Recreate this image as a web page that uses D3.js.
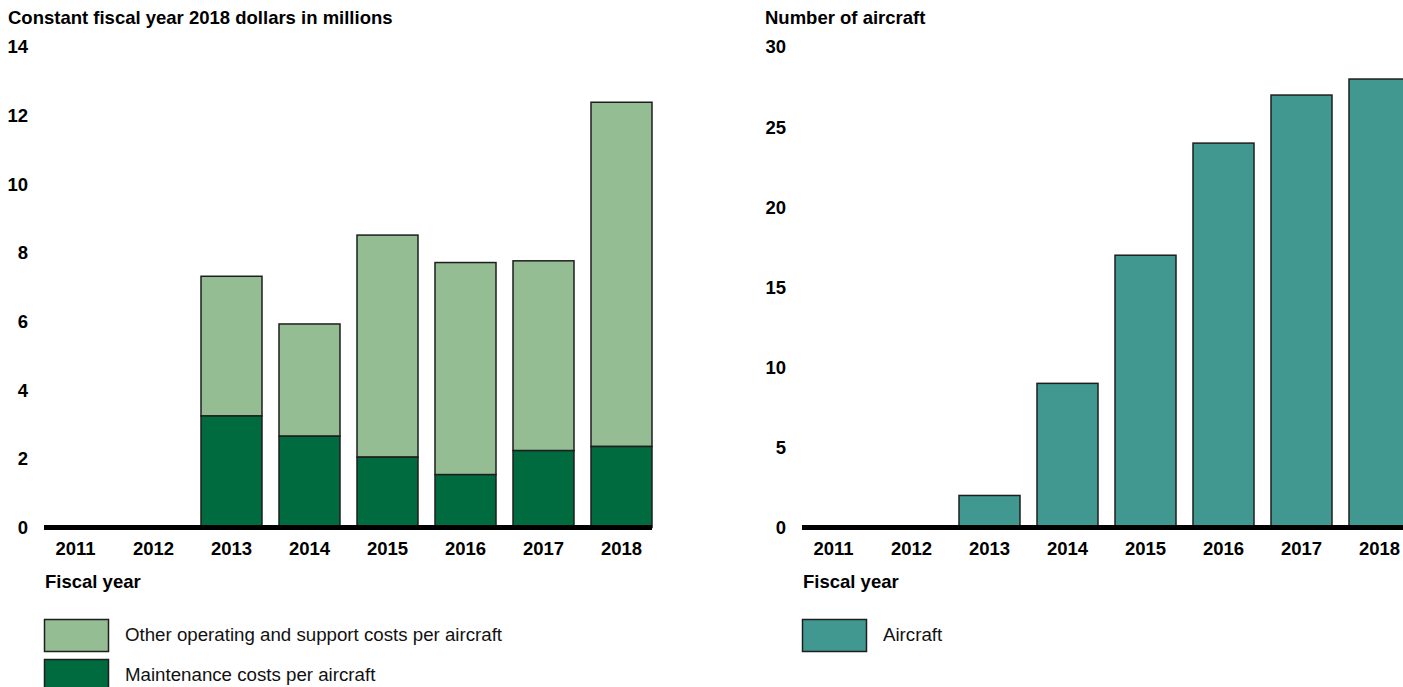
<!DOCTYPE html>
<html>
<head>
<meta charset="utf-8">
<script src="https://cdn.jsdelivr.net/npm/d3@7"></script>
<style>
  html, body { margin: 0; padding: 0; background: #fff; }
  svg { display: block; font-family: "Liberation Sans", Arial, sans-serif; }
</style>
</head>
<body>
<svg id="chart" width="1403" height="687"></svg>
<script>
const years = ["2011", "2012", "2013", "2014", "2015", "2016", "2017", "2018"];
const maintenance = [0, 0, 3.25, 2.66, 2.05, 1.54, 2.24, 2.36];
const otherCosts = [0, 0, 4.07, 3.27, 6.47, 6.18, 5.53, 10.03];
const aircraft = [0, 0, 2, 9, 17, 24, 27, 28];
const leftTicks = [0, 2, 4, 6, 8, 10, 12, 14];
const rightTicks = [0, 5, 10, 15, 20, 25, 30];

const C_OTHER = "#95bd93", C_MAINT = "#006b3f", C_AIR = "#409891", STROKE = "#1e1e1e";
const FS = "18.5px";
const FS_LEG = "18.7px";

const svg = d3.select("#chart");

function panel(opts) {
  const g = svg.append("g");
  const x = d3.scaleBand().domain(years).range(opts.xr).paddingInner(0.218).paddingOuter(0.109);
  const y = d3.scaleLinear().domain(opts.domain).range([527.5, 47]);

  g.append("text").attr("x", opts.titleX).attr("y", 24)
    .attr("font-size", FS).attr("font-weight", "bold").attr("fill", "#000").text(opts.title);

  g.selectAll(".yt").data(opts.ticks).join("text")
    .attr("x", opts.tickX).attr("y", d => y(d)).attr("dy", "0.35em")
    .attr("text-anchor", "end").attr("font-size", FS).attr("font-weight", "bold").text(d => d);

  opts.drawBars(g, x, y);

  g.append("line").attr("x1", x(years[0]) - 1).attr("x2", x(years[years.length - 1]) + x.bandwidth())
    .attr("y1", 527.5).attr("y2", 527.5).attr("stroke", "#000").attr("stroke-width", 5);

  g.selectAll(".xt").data(years).join("text")
    .attr("x", d => x(d) + x.bandwidth() / 2).attr("y", 555)
    .attr("text-anchor", "middle").attr("font-size", FS).attr("font-weight", "bold").text(d => d);

  g.append("text").attr("x", x(years[0])).attr("y", 588)
    .attr("font-size", FS).attr("font-weight", "bold").text("Fiscal year");

  opts.legend.forEach((l, i) => {
    g.append("rect").attr("x", x(years[0]) - 0.5).attr("y", 619.5 + i * 40).attr("width", 64).attr("height", 32)
      .attr("fill", l.color).attr("stroke", STROKE).attr("stroke-width", 1.5);
    g.append("text").attr("x", x(years[0]) + 80).attr("y", 640.5 + i * 40)
      .attr("font-size", FS_LEG).attr("fill", "#111").text(l.label);
  });
}

panel({
  xr: [36.5, 660.5], domain: [0, 14], ticks: leftTicks, tickX: 28, titleX: 8,
  title: "Constant fiscal year 2018 dollars in millions",
  legend: [{ color: C_OTHER, label: "Other operating and support costs per aircraft" },
           { color: C_MAINT, label: "Maintenance costs per aircraft" }],
  drawBars: (g, x, y) => {
    const data = years.map((yr, i) => ({ yr, m: maintenance[i], o: otherCosts[i] })).filter(d => d.m + d.o > 0);
    g.selectAll(".bo").data(data).join("rect")
      .attr("x", d => x(d.yr)).attr("width", x.bandwidth())
      .attr("y", d => y(d.m + d.o)).attr("height", d => y(d.m) - y(d.m + d.o))
      .attr("fill", C_OTHER).attr("stroke", STROKE).attr("stroke-width", 1.5);
    g.selectAll(".bm").data(data).join("rect")
      .attr("x", d => x(d.yr)).attr("width", x.bandwidth())
      .attr("y", d => y(d.m)).attr("height", d => y(0) - y(d.m))
      .attr("fill", C_MAINT).attr("stroke", STROKE).attr("stroke-width", 1.5);
  }
});

panel({
  xr: [794.5, 1418.5], domain: [0, 30], ticks: rightTicks, tickX: 786, titleX: 765,
  title: "Number of aircraft",
  legend: [{ color: C_AIR, label: "Aircraft" }],
  drawBars: (g, x, y) => {
    const data = years.map((yr, i) => ({ yr, v: aircraft[i] })).filter(d => d.v > 0);
    g.selectAll(".ba").data(data).join("rect")
      .attr("x", d => x(d.yr)).attr("width", x.bandwidth())
      .attr("y", d => y(d.v)).attr("height", d => y(0) - y(d.v))
      .attr("fill", C_AIR).attr("stroke", STROKE).attr("stroke-width", 1.5);
  }
});
</script>
</body>
</html>
